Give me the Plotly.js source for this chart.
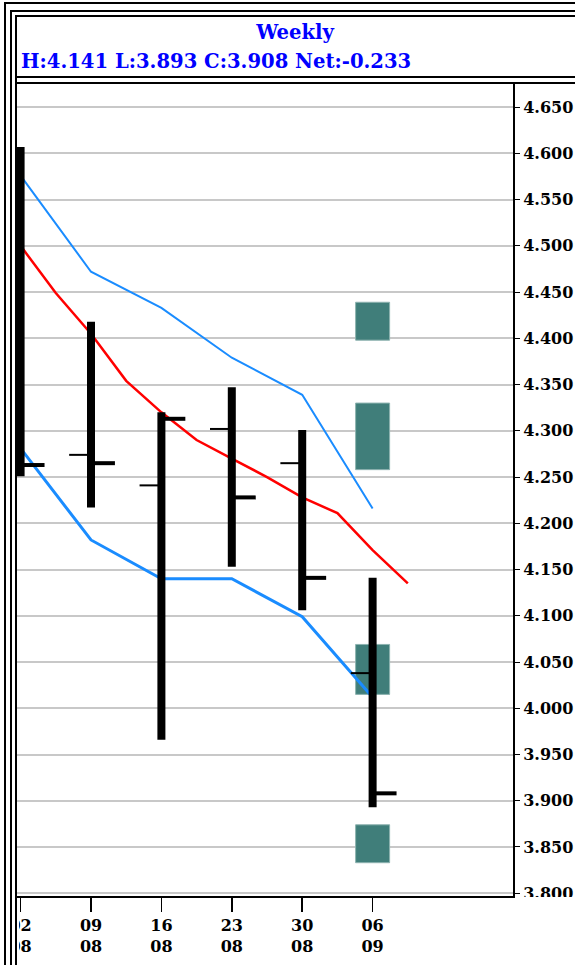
<!DOCTYPE html>
<html>
<head>
<meta charset="utf-8">
<script src="https://cdn.plot.ly/plotly-3.0.1.min.js"></script>
<style>
  html, body { margin:0; padding:0; background:#fff; }
  body { width:575px; height:965px; overflow:hidden; position:relative; }
  #chart { position:absolute; left:0; top:0; width:575px; height:965px; }
  .ln { position:absolute; background:#000; z-index:5; }
  .cover { position:absolute; background:#fff; z-index:4; }
</style>
</head>
<body>
<div id="chart"></div>
<div class="cover" style="left:0;top:80px;width:17px;height:885px"></div>
<div class="cover" style="left:0;top:899px;width:19px;height:66px"></div>
<div class="cover" style="left:516px;top:897px;width:59px;height:68px"></div>
<div class="ln" style="left:4px;top:2px;width:571px;height:2px"></div>
<div class="ln" style="left:4px;top:2px;width:2px;height:963px"></div>
<div class="ln" style="left:10px;top:10px;width:565px;height:2px"></div>
<div class="ln" style="left:10px;top:10px;width:2px;height:955px"></div>
<div class="ln" style="left:15px;top:15px;width:560px;height:2px"></div>
<div class="ln" style="left:15px;top:15px;width:2px;height:950px"></div>
<div class="ln" style="left:15px;top:76px;width:560px;height:2px"></div>
<div class="ln" style="left:15px;top:82px;width:560px;height:2px"></div>
<script>
// ---- data ----
const weeks = [0, 1, 2, 3, 4, 5];
const dayLabels = ['02', '09', '16', '23', '30', '06'];
const monthLabels = ['08', '08', '08', '08', '08', '09'];
const openP  = [4.520, 4.274, 4.241, 4.302, 4.265, 4.038];
const highP  = [4.607, 4.418, 4.320, 4.347, 4.301, 4.141];
const lowP   = [4.251, 4.217, 3.966, 4.153, 4.106, 3.893];
const closeP = [4.263, 4.265, 4.313, 4.228, 4.141, 3.908];

const maX = [0, 0.5, 1, 1.5, 2, 2.5, 3, 3.5, 4, 4.5, 5, 5.5];
const maY = [4.500, 4.449, 4.405, 4.354, 4.320, 4.290, 4.270, 4.250, 4.228, 4.211, 4.171, 4.135];
const upperBand = [4.576, 4.472, 4.433, 4.379, 4.339, 4.216];
const lowerBand = [4.281, 4.182, 4.140, 4.140, 4.099, 4.012];

const zoneWeek = [5, 5, 5, 5];
const zoneLow  = [4.398, 4.258, 4.015, 3.833];
const zoneHigh = [4.439, 4.330, 4.069, 3.874];

// ---- build ----
const hlX = [], hlY = [], opX = [], opY = [], clX = [], clY = [];
weeks.forEach((w, i) => {
  hlX.push(w, w, null);  hlY.push(lowP[i], highP[i], null);
  opX.push(w - 0.31, w, null); opY.push(openP[i], openP[i], null);
  clX.push(w, w + 0.34, null); clY.push(closeP[i], closeP[i], null);
});

const traces = [
  { type:'bar', x: zoneWeek, base: zoneLow, y: zoneHigh.map((h, i) => h - zoneLow[i]),
    width: 0.483, marker:{ color:'#407e7a', line:{ color:'#8db3b0', width:1 } }, hoverinfo:'skip' },
  { type:'scatter', mode:'lines', x: weeks, y: upperBand, line:{ color:'#1a8cff', width:2 } },
  { type:'scatter', mode:'lines', x: weeks, y: lowerBand, line:{ color:'#1a8cff', width:3 } },
  { type:'scatter', mode:'lines', x: maX, y: maY, line:{ color:'#ff0000', width:2.5 } },
  { type:'scatter', mode:'lines', x: opX, y: opY, connectgaps:false, line:{ color:'#000', width:2 } },
  { type:'scatter', mode:'lines', x: clX, y: clY, connectgaps:false, line:{ color:'#000', width:4 } },
  { type:'scatter', mode:'lines', x: hlX, y: hlY, connectgaps:false, line:{ color:'#000', width:8 } }
];

const n = closeP.length - 1;
const header = 'H:' + highP[n].toFixed(3) + ' L:' + lowP[n].toFixed(3) +
  ' C:' + closeP[n].toFixed(3) + ' Net:' + (closeP[n] - closeP[n - 1]).toFixed(3);

const serifBold = (size, color) => ({ family:'DejaVu Serif', size: size, color: color, weight:'bold' });

const layout = {
  width: 575, height: 965,
  margin: { l:17, r:62, t:84, b:69, pad:0 },
  paper_bgcolor:'#fff', plot_bgcolor:'#fff',
  showlegend:false,
  bargap:0,
  title: { text:'Weekly', font: serifBold(19.6, '#0000ff'),
           xref:'container', x: 295/575, xanchor:'center',
           yref:'container', y: 1 - 32/965, yanchor:'middle' },
  annotations: [{ text: header, showarrow:false, font: serifBold(19.6, '#0000ff'),
                  xref:'paper', x: (19 - 17)/496, xanchor:'left',
                  yref:'paper', y: (896 - 61)/812, yanchor:'middle' }],
  xaxis: { range:[-0.051, 6.994], tickvals: weeks,
           ticktext: dayLabels.map((d, i) => d + '<br>' + monthLabels[i]),
           ticks:'outside', ticklen:14, tickwidth:1.5, tickcolor:'#000',
           showline:true, linecolor:'#000', linewidth:2,
           showgrid:false, zeroline:false, tickfont: serifBold(16, '#000'), fixedrange:true },
  yaxis: { range:[3.797, 4.675], side:'right', tick0:3.8, dtick:0.05, tickformat:'.3f',
           ticks:'outside', ticklen:5, tickwidth:1, tickcolor:'#000',
           showline:true, linecolor:'#000', linewidth:2,
           showgrid:true, gridcolor:'#c8c8c8', gridwidth:2, zeroline:false,
           tickfont: serifBold(16, '#000'), fixedrange:true }
};

Plotly.newPlot('chart', traces, layout, { staticPlot:true, displayModeBar:false });
</script>
</body>
</html>
